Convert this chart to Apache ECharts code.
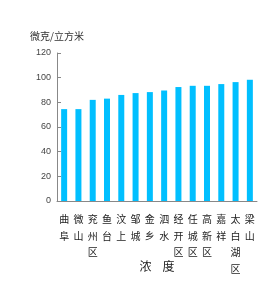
<!DOCTYPE html>
<html><head><meta charset="utf-8">
<script src="https://cdn.jsdelivr.net/npm/echarts@6/dist/echarts.min.js"></script>
<style>html,body{margin:0;padding:0;background:#fff}#c{width:279px;height:285px}</style>
</head><body><div id="c"></div>
<script>
const categories = ['曲阜','微山','兖州区','鱼台','汶上','邹城','金乡','泗水','经开区','任城区','高新区','嘉祥','太白湖区','梁山'];
const values = [74.5,74.5,82,83,86,87.5,88.3,89.6,92.4,93.4,93.4,94.8,96.4,98.3];
const yTicks = [0,20,40,60,80,100,120];
const chart = echarts.init(document.getElementById('c'), null, {renderer:'canvas'});
const font = '"Noto Sans CJK SC", sans-serif';
chart.setOption({
  animation:false,
  grid:{left:57,right:22,top:53,bottom:84,containLabel:false,outerBoundsMode:'none'},
  xAxis:{
    type:'category', data:categories,
    name:'浓    度', nameLocation:'middle', nameGap:59, nameMoveOverlap:false,
    nameTextStyle:{fontFamily:font,fontSize:12,color:'#222'},
    axisLine:{lineStyle:{color:'#888',width:1}},
    axisTick:{inside:true,length:4,lineStyle:{color:'#888'}},
    axisLabel:{interval:0,margin:10,fontFamily:font,fontSize:10,color:'#222',lineHeight:16.5,
      formatter:v=>v.split('').join('\n')}
  },
  yAxis:{
    type:'value', min:0, max:120, interval:20,
    name:'微克/立方米', nameGap:12,
    nameTextStyle:{fontFamily:font,fontSize:10,color:'#333'},
    axisLine:{show:true,lineStyle:{color:'#888'}},
    axisTick:{show:true,inside:true,length:4,lineStyle:{color:'#888'}},
    splitLine:{show:false},
    axisLabel:{margin:6,fontFamily:'"Liberation Sans Narrow","Liberation Sans", sans-serif',fontSize:9,color:'#444',
      formatter:v=>yTicks.includes(v)?String(v):''}
  },
  series:[{type:'bar',data:values,barWidth:6,itemStyle:{color:'#00bfff'}}]
});
</script></body></html>
